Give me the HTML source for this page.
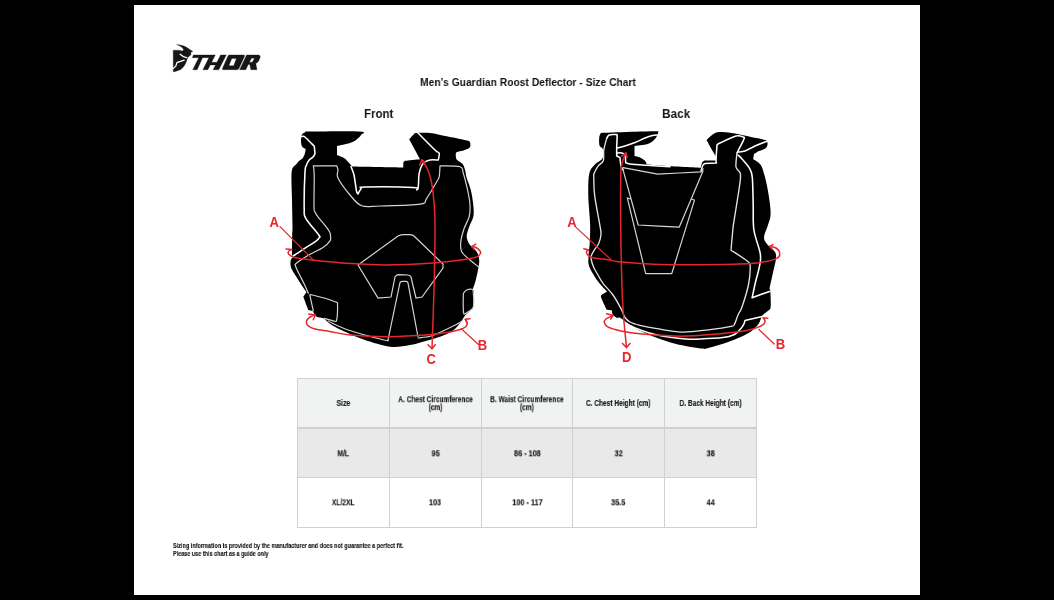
<!DOCTYPE html>
<html><head><meta charset="utf-8"><style>
html,body{margin:0;padding:0;background:#000;width:1054px;height:600px;overflow:hidden;font-family:"Liberation Sans",sans-serif;}
#page{position:absolute;left:134px;top:5px;width:786px;height:590px;background:#fff;}
.t{will-change:transform;position:absolute;white-space:nowrap;color:#141414;font-weight:bold;line-height:1;}
.t span{display:inline-block;}
.c{position:absolute;display:flex;align-items:center;justify-content:center;text-align:center;}
.c span{will-change:transform;display:inline-block;font-weight:bold;color:#1a1a1a;-webkit-text-stroke:0.15px #1a1a1a;white-space:nowrap;}
.hl{position:absolute;background:#d0d0d0;}
svg{position:absolute;left:0;top:0;}
</style></head><body>
<div id="page"></div>
<div class="t" style="left:419.50px;top:75.86px;font-size:11.63px;color:#141414;transform:scaleX(0.886);transform-origin:0 0;">Men’s Guardian Roost Deflector - Size Chart</div><div class="t" style="left:364.30px;top:107.00px;font-size:13.23px;color:#141414;transform:scaleX(0.87);transform-origin:0 0;">Front</div><div class="t" style="left:662.30px;top:106.76px;font-size:13.52px;color:#141414;transform:scaleX(0.876);transform-origin:0 0;">Back</div><div style="position:absolute;left:297.7px;top:378.3px;width:458.40px;height:49.70px;background:#f1f2f2"></div><div style="position:absolute;left:297.7px;top:428.0px;width:458.40px;height:49.70px;background:#e9e9e9"></div><div style="position:absolute;left:297.7px;top:477.7px;width:458.40px;height:49.60px;background:#ffffff"></div><div class="hl" style="left:297.10px;top:377.70px;width:1.2px;height:150.20px"></div><div class="hl" style="left:388.90px;top:377.70px;width:1.2px;height:150.20px"></div><div class="hl" style="left:480.70px;top:377.70px;width:1.2px;height:150.20px"></div><div class="hl" style="left:572.10px;top:377.70px;width:1.2px;height:150.20px"></div><div class="hl" style="left:664.00px;top:377.70px;width:1.2px;height:150.20px"></div><div class="hl" style="left:755.50px;top:377.70px;width:1.2px;height:150.20px"></div><div class="hl" style="left:297.10px;top:377.70px;width:459.60px;height:1.2px"></div><div class="hl" style="left:297.10px;top:427.40px;width:459.60px;height:1.2px"></div><div class="hl" style="left:297.10px;top:477.10px;width:459.60px;height:1.2px"></div><div class="hl" style="left:297.10px;top:526.70px;width:459.60px;height:1.2px"></div><div class="c" style="left:297.70px;top:378.30px;width:91.80px;height:49.70px"><span style="font-size:8.4px;line-height:8.2px;transform:translateY(0px) scaleX(0.82)">Size</span></div><div class="c" style="left:389.50px;top:378.30px;width:91.80px;height:49.70px"><span style="font-size:8.4px;line-height:8.2px;transform:translateY(0.2px) scaleX(0.785)">A. Chest Circumference<br>(cm)</span></div><div class="c" style="left:481.30px;top:378.30px;width:91.40px;height:49.70px"><span style="font-size:8.4px;line-height:8.2px;transform:translateY(0.2px) scaleX(0.785)">B. Waist Circumference<br>(cm)</span></div><div class="c" style="left:572.70px;top:378.30px;width:91.90px;height:49.70px"><span style="font-size:8.4px;line-height:8.2px;transform:translateY(0px) scaleX(0.785)">C. Chest Height (cm)</span></div><div class="c" style="left:664.60px;top:378.30px;width:91.50px;height:49.70px"><span style="font-size:8.4px;line-height:8.2px;transform:translateY(0px) scaleX(0.785)">D. Back Height (cm)</span></div><div class="c" style="left:297.70px;top:428.00px;width:91.80px;height:49.70px"><span style="font-size:8.4px;line-height:8.2px;transform:translateY(0.3px) scaleX(0.8)">M/L</span></div><div class="c" style="left:389.50px;top:428.00px;width:91.80px;height:49.70px"><span style="font-size:8.4px;line-height:8.2px;transform:translateY(0.3px) scaleX(0.87)">95</span></div><div class="c" style="left:481.30px;top:428.00px;width:91.40px;height:49.70px"><span style="font-size:8.4px;line-height:8.2px;transform:translateY(0.3px) scaleX(0.87)">86 - 108</span></div><div class="c" style="left:572.70px;top:428.00px;width:91.90px;height:49.70px"><span style="font-size:8.4px;line-height:8.2px;transform:translateY(0.3px) scaleX(0.87)">32</span></div><div class="c" style="left:664.60px;top:428.00px;width:91.50px;height:49.70px"><span style="font-size:8.4px;line-height:8.2px;transform:translateY(0.3px) scaleX(0.87)">38</span></div><div class="c" style="left:297.70px;top:477.70px;width:91.80px;height:49.60px"><span style="font-size:8.4px;line-height:8.2px;transform:translateY(0.3px) scaleX(0.8)">XL/2XL</span></div><div class="c" style="left:389.50px;top:477.70px;width:91.80px;height:49.60px"><span style="font-size:8.4px;line-height:8.2px;transform:translateY(0.3px) scaleX(0.87)">103</span></div><div class="c" style="left:481.30px;top:477.70px;width:91.40px;height:49.60px"><span style="font-size:8.4px;line-height:8.2px;transform:translateY(0.3px) scaleX(0.87)">100 - 117</span></div><div class="c" style="left:572.70px;top:477.70px;width:91.90px;height:49.60px"><span style="font-size:8.4px;line-height:8.2px;transform:translateY(0.3px) scaleX(0.87)">35.5</span></div><div class="c" style="left:664.60px;top:477.70px;width:91.50px;height:49.60px"><span style="font-size:8.4px;line-height:8.2px;transform:translateY(0.3px) scaleX(0.87)">44</span></div><div class="t" style="left:172.90px;top:541.75px;font-size:7.27px;color:#141414;transform:scaleX(0.76);transform-origin:0 0;-webkit-text-stroke:0.12px #141414;">Sizing information is provided by the manufacturer and does not guarantee a perfect fit.</div><div class="t" style="left:172.90px;top:550.57px;font-size:7.12px;color:#141414;transform:scaleX(0.77);transform-origin:0 0;-webkit-text-stroke:0.12px #141414;">Please use this chart as a guide only</div>
<svg width="1054" height="600" viewBox="0 0 1054 600">
<path d="M301.20,138.00 C301.40,136.87 301.48,135.17 302.20,134.20 C302.92,133.23 304.20,132.63 305.50,132.20 C306.80,131.77 300.92,131.72 310.00,131.60 C319.08,131.48 351.50,130.93 360.00,131.50 C368.50,132.07 361.67,133.58 361.00,135.00 C360.33,136.42 357.83,138.67 356.00,140.00 C354.17,141.33 353.17,142.00 350.00,143.00 C346.83,144.00 339.17,145.50 337.00,146.00 C337.00,147.50 337.00,153.50 337.00,155.00 C338.17,155.50 341.83,156.50 344.00,158.00 C346.17,159.50 348.67,162.58 350.00,164.00 C351.33,165.42 351.67,166.08 352.00,166.50 C360.55,166.67 394.75,167.33 403.30,167.50 C403.30,166.67 403.30,163.33 403.30,162.50 C403.58,162.22 404.72,161.08 405.00,160.80 C407.50,160.53 417.50,159.47 420.00,159.20 C418.20,155.87 411.00,142.53 409.20,139.20 C410.17,138.17 414.03,134.03 415.00,133.00 C417.50,133.00 424.72,132.45 430.00,133.00 C435.28,133.55 441.15,135.18 446.70,136.30 C452.25,137.42 459.55,138.87 463.30,139.70 C467.05,140.53 468.02,140.47 469.20,141.30 C470.38,142.13 470.40,143.58 470.40,144.70 C470.40,145.82 470.38,147.03 469.20,148.00 C468.02,148.97 465.38,149.80 463.30,150.50 C461.22,151.20 457.95,151.50 456.70,152.20 C455.45,152.90 455.87,153.60 455.80,154.70 C455.73,155.80 455.88,157.77 456.30,158.80 C456.72,159.83 457.27,160.07 458.30,160.90 C459.33,161.73 461.38,162.33 462.50,163.80 C463.62,165.27 464.30,167.33 465.00,169.70 C465.70,172.07 465.73,174.62 466.70,178.00 C467.67,181.38 469.70,185.50 470.80,190.00 C471.90,194.50 472.88,200.55 473.30,205.00 C473.72,209.45 473.98,213.08 473.30,216.70 C472.62,220.32 470.30,223.37 469.20,226.70 C468.10,230.03 466.57,233.65 466.70,236.70 C466.83,239.75 468.33,242.50 470.00,245.00 C471.67,247.50 475.17,249.20 476.70,251.70 C478.23,254.20 478.93,257.23 479.20,260.00 C479.47,262.77 478.87,264.97 478.30,268.30 C477.73,271.63 476.73,276.50 475.80,280.00 C474.87,283.50 473.22,287.75 472.70,289.30 C472.92,289.97 473.90,290.30 474.00,293.30 C474.10,296.30 473.75,304.52 473.30,307.30 C472.85,310.08 472.63,308.67 471.30,310.00 C469.97,311.33 467.18,313.08 465.30,315.30 C463.42,317.52 462.22,320.63 460.00,323.30 C457.78,325.97 455.33,329.07 452.00,331.30 C448.67,333.53 444.22,335.13 440.00,336.70 C435.78,338.27 431.70,339.32 426.70,340.70 C421.70,342.08 416.12,344.00 410.00,345.00 C403.88,346.00 397.50,347.53 390.00,346.70 C382.50,345.87 371.95,342.23 365.00,340.00 C358.05,337.77 353.85,335.80 348.30,333.30 C342.75,330.80 335.87,327.50 331.70,325.00 C327.53,322.50 325.80,319.68 323.30,318.30 C320.80,316.92 318.50,317.95 316.70,316.70 C314.90,315.45 313.20,311.78 312.50,310.80 C311.80,310.67 309.00,310.13 308.30,310.00 C307.47,307.78 304.13,298.92 303.30,296.70 C303.87,295.87 306.13,292.53 306.70,291.70 C306.42,291.42 306.73,292.50 305.00,290.00 C303.27,287.50 298.58,280.32 296.30,276.70 C294.02,273.08 292.27,270.80 291.30,268.30 C290.33,265.80 290.43,263.50 290.50,261.70 C290.57,259.90 291.50,259.45 291.75,257.50 C292.00,255.55 291.93,253.75 292.00,250.00 C292.07,246.25 292.12,238.88 292.20,235.00 C292.28,231.12 292.53,232.53 292.50,226.70 C292.47,220.87 292.13,209.17 292.00,200.00 C291.87,190.83 290.98,177.65 291.70,171.70 C292.42,165.75 295.08,166.08 296.30,164.30 C297.52,162.52 297.88,162.10 299.00,161.00 C300.12,159.90 302.00,159.03 303.00,157.70 C304.00,156.37 304.55,154.45 305.00,153.00 C305.45,151.55 305.58,149.67 305.70,149.00 C305.37,148.83 304.37,148.55 303.70,148.00 C303.03,147.45 302.15,146.87 301.70,145.70 C301.25,144.53 301.08,142.28 301.00,141.00 C300.92,139.72 301.00,139.13 301.20,138.00 Z" fill="#000"/>
<path d="M301.70,136.70 C302.03,136.63 302.93,136.03 303.70,136.30 C304.47,136.57 304.53,136.63 306.30,138.30 C308.07,139.97 312.97,144.97 314.30,146.30 C314.42,147.53 314.88,152.47 315.00,153.70 C314.67,154.25 314.00,155.90 313.00,157.00 C312.00,158.10 310.08,158.97 309.00,160.30 C307.92,161.63 307.17,163.05 306.50,165.00 C305.83,166.95 305.38,164.78 305.00,172.00 C304.62,179.22 304.07,200.58 304.20,208.30 C304.33,216.02 303.37,213.85 305.80,218.30 C308.23,222.75 316.56,231.80 318.80,235.00 C321.04,238.20 319.67,236.53 319.25,237.50 C318.83,238.47 318.73,239.00 316.30,240.80 C313.88,242.60 308.30,245.93 304.70,248.30 C301.10,250.67 297.07,253.33 294.70,255.00 C292.33,256.67 291.20,257.75 290.50,258.30" fill="none" stroke="#ffffff" stroke-width="1.55" stroke-linejoin="round" stroke-linecap="round"/>
<path d="M351.00,166.50 C351.50,167.92 353.08,170.92 354.00,175.00 C354.92,179.08 355.83,187.83 356.50,191.00 C357.17,194.17 357.75,193.50 358.00,194.00 C358.50,193.17 359.83,190.17 361.00,189.00 C362.17,187.83 356.28,187.25 365.00,187.00 C373.72,186.75 404.68,187.00 413.30,187.50 C421.92,188.00 416.13,189.58 416.70,190.00 C416.97,189.45 417.88,189.48 418.30,186.70 C418.72,183.92 418.37,177.20 419.20,173.30 C420.03,169.40 421.50,165.52 423.30,163.30 C425.10,161.08 427.50,160.55 430.00,160.00 C432.50,159.45 436.92,160.00 438.30,160.00 C438.45,158.88 439.75,154.97 439.20,153.30 C438.65,151.63 438.62,153.47 435.00,150.00 C431.38,146.53 420.42,135.42 417.50,132.50" fill="none" stroke="#ffffff" stroke-width="1.55" stroke-linejoin="round" stroke-linecap="round"/>
<path d="M478.30,266.70 C476.92,265.58 472.77,262.50 470.00,260.00 C467.23,257.50 463.23,254.75 461.70,251.70 C460.17,248.65 460.38,245.60 460.80,241.70 C461.22,237.80 462.80,232.47 464.20,228.30 C465.60,224.13 468.23,220.58 469.20,216.70 C470.17,212.82 470.15,208.90 470.00,205.00 C469.85,201.10 469.42,198.58 468.30,193.30 C467.18,188.02 464.68,177.73 463.30,173.30 C461.92,168.87 463.88,167.95 460.00,166.70 C456.12,165.45 443.33,165.95 440.00,165.80 C439.87,167.62 439.75,174.05 439.20,176.70 C438.65,179.35 438.78,178.10 436.70,181.70 C434.62,185.30 429.48,194.55 426.70,198.30 C423.92,202.05 427.78,202.92 420.00,204.20 C412.22,205.48 389.72,205.73 380.00,206.00 C370.28,206.27 366.70,207.63 361.70,205.80 C356.70,203.97 353.95,199.63 350.00,195.00 C346.05,190.37 340.00,182.17 338.00,178.00 C336.00,173.83 338.22,172.03 338.00,170.00 C337.78,167.97 336.92,166.50 336.70,165.80 C332.80,165.80 317.20,165.80 313.30,165.80 C313.45,167.33 314.08,168.18 314.20,175.00 C314.32,181.82 313.87,200.53 314.00,206.70 C314.13,212.87 314.28,210.23 315.00,212.00 C315.72,213.77 316.63,215.08 318.30,217.30 C319.97,219.52 323.10,222.85 325.00,225.30 C326.90,227.75 328.78,230.22 329.70,232.00 C330.62,233.78 330.45,234.53 330.50,236.00 C330.55,237.47 331.25,238.88 330.00,240.80 C328.75,242.72 326.53,245.13 323.00,247.50 C319.47,249.87 313.25,252.37 308.80,255.00 C304.35,257.63 298.52,261.50 296.30,263.30 C294.08,265.10 295.08,264.13 295.50,265.80 C295.92,267.47 297.27,270.10 298.80,273.30 C300.33,276.50 303.12,281.67 304.70,285.00 C306.28,288.33 307.70,291.92 308.30,293.30" fill="none" stroke="#d4d4d4" stroke-width="1.2" stroke-linejoin="round" stroke-linecap="round"/>
<path d="M358,265 L398,236 Q401,234.6 404,234.6 L410,234.6 Q413,234.8 414,236 L443,264 L443,268 L422,297 L416,298 L411,277 Q410,275 408,275 L398,274.6 Q396,275 395,277 L391,297 L378,298 Z" fill="none" stroke="#d4d4d4" stroke-width="1.2"/>
<path d="M388,340 L400,282.5 Q401,281.4 403,281.4 L406,281.4 Q407.5,281.5 408,283 L418,337" fill="none" stroke="#d4d4d4" stroke-width="1.2"/>
<path d="M328.00,321.00 C331.38,322.50 338.97,326.83 348.30,330.00 C357.63,333.17 377.38,338.33 384.00,340.00 C390.62,341.67 387.33,340.00 388.00,340.00" fill="none" stroke="#d4d4d4" stroke-width="1.2" stroke-linejoin="round" stroke-linecap="round"/>
<path d="M418.00,338.00 C419.33,337.83 423.45,337.45 426.00,337.00 C428.55,336.55 428.75,337.13 433.30,335.30 C437.85,333.47 448.40,328.43 453.30,326.00 C458.20,323.57 461.13,321.58 462.70,320.70" fill="none" stroke="#d4d4d4" stroke-width="1.2" stroke-linejoin="round" stroke-linecap="round"/>
<path d="M313.30,310.80 C312.75,308.30 310.55,298.30 310.00,295.80 C310.42,295.67 308.33,294.02 312.50,295.00 C316.67,295.98 330.83,300.03 335.00,301.70 C339.17,303.37 337.22,301.95 337.50,305.00 C337.78,308.05 337.40,317.37 336.70,320.00 C336.00,322.63 335.38,321.08 333.30,320.80 C331.22,320.52 325.72,318.72 324.20,318.30" fill="none" stroke="#d4d4d4" stroke-width="1.2" stroke-linejoin="round" stroke-linecap="round"/>
<path d="M464.00,292.70 C464.57,291.82 465.37,290.57 466.70,290.00 C468.03,289.43 470.90,288.85 472.00,289.30 C473.10,289.75 473.08,289.70 473.30,292.70 C473.52,295.70 474.40,303.97 473.30,307.30 C472.20,310.63 468.25,311.58 466.70,312.70 C465.15,313.82 464.57,314.45 464.00,314.00 C463.43,313.55 463.42,313.12 463.30,310.00 C463.18,306.88 463.18,298.18 463.30,295.30 C463.42,292.42 463.43,293.58 464.00,292.70 Z" fill="none" stroke="#d4d4d4" stroke-width="1.2" stroke-linejoin="round" stroke-linecap="round"/>
<path d="M291.30,249.60 C290.83,249.92 288.92,250.73 288.50,251.50 C288.08,252.27 287.77,253.20 288.80,254.20 C289.83,255.20 290.80,256.53 294.70,257.50 C298.60,258.47 302.98,259.00 312.20,260.00 C321.42,261.00 337.87,262.67 350.00,263.50 C362.13,264.33 371.67,265.03 385.00,265.00 C398.33,264.97 415.55,264.42 430.00,263.30 C444.45,262.18 463.37,259.85 471.70,258.30 C480.03,256.75 478.62,255.22 480.00,254.00 C481.38,252.78 480.67,252.08 480.00,251.00 C479.33,249.92 477.38,248.22 476.00,247.50 C474.62,246.78 472.42,246.83 471.70,246.70" fill="none" stroke="#e5262c" stroke-width="1.5" stroke-linejoin="round" stroke-linecap="round"/>
<path d="M475.80,244.20 L471.70,246.70 L474.50,249.50" fill="none" stroke="#e5262c" stroke-width="1.5" stroke-linejoin="round" stroke-linecap="round"/>
<path d="M280.00,226.70 L313.30,260.00" fill="none" stroke="#e5262c" stroke-width="1.2" stroke-linejoin="round" stroke-linecap="round"/>
<path d="M286.00,249.00 L292.00,249.50" fill="none" stroke="#e5262c" stroke-width="1.5" stroke-linejoin="round" stroke-linecap="round"/>
<path d="M421.70,160.00 C422.58,161.33 425.45,164.67 427.00,168.00 C428.55,171.33 429.95,175.50 431.00,180.00 C432.05,184.50 432.67,189.17 433.30,195.00 C433.93,200.83 434.52,207.50 434.80,215.00 C435.08,222.50 435.13,227.50 435.00,240.00 C434.87,252.50 434.50,271.88 434.00,290.00 C433.50,308.12 432.33,338.92 432.00,348.70" fill="none" stroke="#e5262c" stroke-width="1.5" stroke-linejoin="round" stroke-linecap="round"/>
<path d="M428.00,344.70 L432.00,348.70 L435.30,344.70" fill="none" stroke="#e5262c" stroke-width="1.5" stroke-linejoin="round" stroke-linecap="round"/>
<path d="M419.80,165.00 L421.70,160.00 L425.50,162.50" fill="none" stroke="#e5262c" stroke-width="1.5" stroke-linejoin="round" stroke-linecap="round"/>
<path d="M315.50,315.00 C314.75,315.25 312.42,315.67 311.00,316.50 C309.58,317.33 307.75,318.92 307.00,320.00 C306.25,321.08 306.25,322.00 306.50,323.00 C306.75,324.00 307.08,325.00 308.50,326.00 C309.92,327.00 311.42,328.08 315.00,329.00 C318.58,329.92 324.17,330.50 330.00,331.50 C335.83,332.50 340.83,334.12 350.00,335.00 C359.17,335.88 373.33,336.75 385.00,336.80 C396.67,336.85 410.83,335.85 420.00,335.30 C429.17,334.75 433.55,334.38 440.00,333.50 C446.45,332.62 454.45,331.08 458.70,330.00 C462.95,328.92 464.07,328.12 465.50,327.00 C466.93,325.88 467.33,324.58 467.30,323.30 C467.27,322.02 465.63,319.97 465.30,319.30" fill="none" stroke="#e5262c" stroke-width="1.5" stroke-linejoin="round" stroke-linecap="round"/>
<path d="M470.00,318.70 L465.30,319.30 L467.00,323.00" fill="none" stroke="#e5262c" stroke-width="1.5" stroke-linejoin="round" stroke-linecap="round"/>
<path d="M461.30,328.70 L478.70,344.70" fill="none" stroke="#e5262c" stroke-width="1.2" stroke-linejoin="round" stroke-linecap="round"/>
<path d="M308.75,314.00 L315.50,315.00 L313.25,319.75" fill="none" stroke="#e5262c" stroke-width="1.5" stroke-linejoin="round" stroke-linecap="round"/>
<text transform="translate(274.2,226.8) scale(0.86,1)" text-anchor="middle" fill="#e5262c" font-family="Liberation Sans" font-weight="bold" font-size="15.2">A</text>
<text transform="translate(431.2,364.4) scale(0.86,1)" text-anchor="middle" fill="#e5262c" font-family="Liberation Sans" font-weight="bold" font-size="15.2">C</text>
<text transform="translate(482.4,349.9) scale(0.86,1)" text-anchor="middle" fill="#e5262c" font-family="Liberation Sans" font-weight="bold" font-size="15.2">B</text>
<path d="M600.80,132.90 C606.50,132.71 625.72,132.03 635.00,131.75 C644.28,131.47 652.67,131.04 656.50,131.25 C660.33,131.46 657.92,132.21 658.00,133.00 C658.08,133.79 657.67,134.83 657.00,136.00 C656.33,137.17 655.33,138.75 654.00,140.00 C652.67,141.25 650.92,142.67 649.00,143.50 C647.08,144.33 644.92,144.58 642.50,145.00 C640.08,145.42 635.83,145.83 634.50,146.00 C634.50,147.67 634.50,154.33 634.50,156.00 C635.42,156.25 638.25,156.70 640.00,157.50 C641.75,158.30 643.88,159.68 645.00,160.80 C646.12,161.92 646.42,163.63 646.70,164.20 C648.92,164.42 651.00,164.90 660.00,165.50 C669.00,166.10 693.92,167.42 700.70,167.80 C700.95,166.85 701.95,163.05 702.20,162.10 C702.58,161.85 704.12,160.85 704.50,160.60 C706.40,160.60 714.00,160.60 715.90,160.60 C716.02,160.10 716.48,158.10 716.60,157.60 C715.83,156.33 713.68,152.93 712.00,150.00 C710.32,147.07 707.42,141.67 706.50,140.00 C707.92,138.83 712.25,134.33 715.00,133.00 C717.75,131.67 719.67,131.92 723.00,132.00 C726.33,132.08 730.33,132.67 735.00,133.50 C739.67,134.33 746.00,135.92 751.00,137.00 C756.00,138.08 762.25,139.00 765.00,140.00 C767.75,141.00 767.33,141.67 767.50,143.00 C767.67,144.33 767.42,146.67 766.00,148.00 C764.58,149.33 761.00,150.00 759.00,151.00 C757.00,152.00 754.83,153.50 754.00,154.00 C753.87,154.87 753.33,158.33 753.20,159.20 C754.43,160.12 758.62,161.65 760.60,164.70 C762.58,167.75 763.73,172.30 765.10,177.50 C766.47,182.70 767.88,189.78 768.80,195.90 C769.72,202.02 770.75,209.32 770.60,214.20 C770.45,219.08 769.00,221.35 767.90,225.20 C766.80,229.05 764.05,234.05 764.00,237.30 C763.95,240.55 765.77,242.25 767.60,244.70 C769.43,247.15 773.62,249.57 775.00,252.00 C776.38,254.43 776.22,255.95 775.90,259.30 C775.58,262.65 774.17,267.22 773.10,272.10 C772.03,276.98 770.10,285.85 769.50,288.60 C769.65,289.22 770.22,289.18 770.40,292.30 C770.58,295.42 771.03,304.18 770.60,307.30 C770.17,310.42 769.18,309.62 767.80,311.00 C766.42,312.38 763.82,313.47 762.30,315.60 C760.78,317.73 760.53,321.20 758.70,323.80 C756.87,326.40 754.22,329.05 751.30,331.20 C748.38,333.35 745.17,334.87 741.20,336.70 C737.23,338.53 732.83,340.37 727.50,342.20 C722.17,344.03 713.55,346.63 709.20,347.70 C704.85,348.77 706.92,349.22 701.40,348.60 C695.88,347.98 683.00,345.60 676.10,344.00 C669.20,342.40 665.18,340.83 660.00,339.00 C654.82,337.17 648.75,334.58 645.00,333.00 C641.25,331.42 640.30,331.05 637.50,329.50 C634.70,327.95 631.12,325.65 628.20,323.70 C625.28,321.75 621.95,318.78 620.00,317.80 C618.05,316.82 617.77,318.38 616.50,317.80 C615.23,317.22 613.08,314.88 612.40,314.30 C612.30,313.63 611.90,310.97 611.80,310.30 C610.93,310.20 607.47,309.80 606.60,309.70 C605.72,307.75 602.18,300.43 601.30,298.00 C600.42,295.57 601.30,295.58 601.30,295.10 C602.28,294.52 606.22,292.18 607.20,291.60 C605.80,290.08 601.30,285.68 598.80,282.50 C596.30,279.32 593.87,275.42 592.20,272.50 C590.53,269.58 589.43,267.08 588.80,265.00 C588.17,262.92 588.40,262.22 588.40,260.00 C588.40,257.78 588.58,254.48 588.80,251.70 C589.02,248.92 589.48,248.02 589.70,243.30 C589.92,238.58 590.33,231.30 590.10,223.40 C589.87,215.50 588.45,204.15 588.30,195.90 C588.15,187.65 588.13,179.10 589.20,173.90 C590.27,168.70 592.48,167.30 594.70,164.70 C596.92,162.10 601.13,160.88 602.50,158.30 C603.87,155.72 603.38,151.28 602.90,149.20 C602.42,147.12 600.22,147.75 599.60,145.80 C598.98,143.85 599.00,139.65 599.20,137.50 C599.40,135.35 600.53,133.67 600.80,132.90 Z" fill="#000"/>
<path d="M617.00,148.00 C618.33,147.67 622.00,146.92 625.00,146.00 C628.00,145.08 631.67,143.83 635.00,142.50 C638.33,141.17 642.08,139.17 645.00,138.00 C647.92,136.83 650.42,136.00 652.50,135.50 C654.58,135.00 656.67,135.08 657.50,135.00" fill="none" stroke="#ffffff" stroke-width="1.55" stroke-linejoin="round" stroke-linecap="round"/>
<path d="M606.70,138.30 C607.12,137.75 607.68,135.62 609.20,135.00 C610.72,134.38 614.48,134.47 615.80,134.60 C617.12,134.73 616.95,133.78 617.10,135.80 C617.25,137.82 616.77,143.33 616.70,146.70 C616.63,150.07 616.70,154.45 616.70,156.00 C617.25,156.27 619.45,157.33 620.00,157.60 C620.08,158.50 620.25,161.35 620.50,163.00 C620.75,164.65 621.08,166.38 621.50,167.50 C621.92,168.62 622.75,169.33 623.00,169.70" fill="none" stroke="#ffffff" stroke-width="1.55" stroke-linejoin="round" stroke-linecap="round"/>
<path d="M617.00,153.00 C617.62,152.95 619.53,152.53 620.70,152.70 C621.87,152.87 623.23,153.33 624.00,154.00 C624.77,154.67 625.02,155.25 625.30,156.70 C625.58,158.15 625.63,161.70 625.70,162.70 C626.42,162.92 626.50,163.57 630.00,164.00 C633.50,164.43 640.03,164.85 646.70,165.30 C653.37,165.75 666.12,166.47 670.00,166.70" fill="none" stroke="#ffffff" stroke-width="1.55" stroke-linejoin="round" stroke-linecap="round"/>
<path d="M701.00,171.00 C701.33,170.00 702.33,166.25 703.00,165.00 C703.67,163.75 704.67,163.75 705.00,163.50 C706.92,163.42 714.58,163.08 716.50,163.00 C716.42,162.50 715.92,163.00 716.00,160.00 C716.08,157.00 716.83,147.50 717.00,145.00 C717.50,144.67 716.83,144.50 720.00,143.00 C723.17,141.50 732.17,137.00 736.00,136.00 C739.83,135.00 741.67,136.50 743.00,137.00 C744.33,137.50 744.83,136.67 744.00,139.00 C743.17,141.33 739.17,148.67 738.00,151.00 C736.83,153.33 737.17,152.67 737.00,153.00" fill="none" stroke="#ffffff" stroke-width="1.55" stroke-linejoin="round" stroke-linecap="round"/>
<path d="M606.70,138.30 C606.22,140.25 604.37,146.25 603.80,150.00 C603.23,153.75 604.22,158.17 603.30,160.80 C602.38,163.43 599.82,163.72 598.30,165.80 C596.78,167.88 594.95,171.35 594.20,173.30 C593.45,175.25 593.72,173.73 593.80,177.50 C593.88,181.27 593.63,187.63 594.70,195.90 C595.77,204.17 599.17,220.58 600.20,227.10 C601.23,233.62 601.13,232.30 600.90,235.00 C600.67,237.70 599.98,240.67 598.80,243.30 C597.62,245.93 595.05,248.72 593.80,250.80 C592.55,252.88 591.72,254.27 591.30,255.80 C590.88,257.33 590.88,258.05 591.30,260.00 C591.72,261.95 592.68,265.00 593.80,267.50 C594.92,270.00 596.47,272.37 598.00,275.00 C599.53,277.63 600.50,279.97 603.00,283.30 C605.50,286.63 610.00,290.78 613.00,295.00 C616.00,299.22 619.00,304.85 621.00,308.60 C623.00,312.35 623.50,315.27 625.00,317.50 C626.50,319.73 627.50,320.70 630.00,322.00 C632.50,323.30 635.48,324.18 640.00,325.30 C644.52,326.42 650.08,327.57 657.10,328.70 C664.12,329.83 673.57,331.92 682.10,332.10 C690.63,332.28 700.13,330.75 708.30,329.80 C716.47,328.85 726.73,327.35 731.10,326.40 C735.47,325.45 733.35,326.00 734.50,324.10 C735.65,322.20 736.75,317.85 738.00,315.00 C739.25,312.15 740.27,312.00 742.00,307.00 C743.73,302.00 747.03,291.72 748.40,285.00 C749.77,278.28 750.35,270.67 750.20,266.70 C750.05,262.73 750.70,263.95 747.50,261.20 C744.30,258.45 733.75,252.03 731.00,250.20 C731.30,246.83 732.32,234.77 732.80,230.00 C733.28,225.23 732.80,228.82 733.90,221.60 C735.00,214.38 738.32,194.65 739.40,186.70 C740.48,178.75 740.97,177.18 740.40,173.90 C739.83,170.62 736.57,170.48 736.00,167.00 C735.43,163.52 736.83,155.33 737.00,153.00" fill="none" stroke="#e2e2e2" stroke-width="1.35" stroke-linejoin="round" stroke-linecap="round"/>
<path d="M738.00,152.00 C739.17,151.83 742.17,152.00 745.00,151.00 C747.83,150.00 751.67,147.50 755.00,146.00 C758.33,144.50 763.00,142.75 765.00,142.00 C767.00,141.25 766.67,141.58 767.00,141.50" fill="none" stroke="#ffffff" stroke-width="1.55" stroke-linejoin="round" stroke-linecap="round"/>
<path d="M738.00,155.00 C738.70,155.70 740.28,156.98 742.20,159.20 C744.12,161.42 747.82,165.25 749.50,168.30 C751.18,171.35 751.68,171.38 752.30,177.50 C752.92,183.62 752.93,196.25 753.20,205.00 C753.47,213.75 752.72,221.87 753.90,230.00 C755.08,238.13 759.38,247.68 760.30,253.80 C761.22,259.92 760.17,262.12 759.40,266.70 C758.63,271.28 756.92,276.12 755.70,281.30 C754.48,286.48 752.70,295.05 752.10,297.80 C755.00,296.73 766.60,292.47 769.50,291.40" fill="none" stroke="#ffffff" stroke-width="1.55" stroke-linejoin="round" stroke-linecap="round"/>
<path d="M762.30,316.50 C759.40,317.18 747.80,319.92 744.90,320.60 C744.75,321.13 744.77,322.35 744.00,323.80 C743.23,325.25 741.98,327.47 740.30,329.30 C738.62,331.13 736.80,333.42 733.90,334.80 C731.00,336.18 728.55,336.90 722.90,337.60 C717.25,338.30 706.22,338.78 700.00,339.00 C693.78,339.22 692.75,339.58 685.60,338.90 C678.45,338.22 664.70,336.42 657.10,334.90 C649.50,333.38 645.25,331.73 640.00,329.80 C634.75,327.87 628.00,324.38 625.60,323.30" fill="none" stroke="#ffffff" stroke-width="1.55" stroke-linejoin="round" stroke-linecap="round"/>
<path d="M623.00,167.60 C628.77,168.68 651.83,173.02 657.60,174.10 C664.83,173.73 693.77,172.27 701.00,171.90 C701.35,171.37 702.75,169.23 703.10,168.70" fill="none" stroke="#d4d4d4" stroke-width="1.2" stroke-linejoin="round" stroke-linecap="round"/>
<path d="M623.00,169.70 C625.53,178.92 635.67,215.78 638.20,225.00 C645.05,225.35 672.45,226.75 679.30,227.10 C683.27,217.72 699.13,180.18 703.10,170.80" fill="none" stroke="#d4d4d4" stroke-width="1.2" stroke-linejoin="round" stroke-linecap="round"/>
<path d="M630.60,199.00 C630.05,198.82 627.85,198.08 627.30,197.90 C630.37,210.53 642.63,261.07 645.70,273.70 C650.03,273.70 667.37,273.70 671.70,273.70 C675.50,261.43 690.70,212.37 694.50,200.10 C693.95,199.92 691.75,199.18 691.20,199.00" fill="none" stroke="#d4d4d4" stroke-width="1.2" stroke-linejoin="round" stroke-linecap="round"/>
<path d="M594.70,258.30 C593.72,257.88 590.20,256.90 588.80,255.80 C587.40,254.70 586.30,252.67 586.30,251.70 C586.30,250.73 588.38,250.28 588.80,250.00" fill="none" stroke="#e5262c" stroke-width="1.5" stroke-linejoin="round" stroke-linecap="round"/>
<path d="M583.80,248.75 L588.80,250.00" fill="none" stroke="#e5262c" stroke-width="1.5" stroke-linejoin="round" stroke-linecap="round"/>
<path d="M594.70,258.30 C597.20,258.58 605.82,259.43 609.70,260.00 C613.58,260.57 611.28,261.03 618.00,261.70 C624.72,262.37 641.33,263.50 650.00,264.00 C658.67,264.50 658.33,264.62 670.00,264.70 C681.67,264.78 705.55,264.78 720.00,264.50 C734.45,264.22 747.23,264.02 756.70,263.00 C766.17,261.98 772.98,260.08 776.80,258.40 C780.62,256.72 779.73,254.63 779.60,252.90 C779.47,251.17 777.68,249.07 776.00,248.00 C774.32,246.93 770.58,246.75 769.50,246.50" fill="none" stroke="#e5262c" stroke-width="1.5" stroke-linejoin="round" stroke-linecap="round"/>
<path d="M773.10,244.70 L769.50,246.50 L772.50,249.50" fill="none" stroke="#e5262c" stroke-width="1.5" stroke-linejoin="round" stroke-linecap="round"/>
<path d="M576.00,227.40 L610.70,259.40" fill="none" stroke="#e5262c" stroke-width="1.2" stroke-linejoin="round" stroke-linecap="round"/>
<path d="M625.80,152.90 C625.25,154.42 623.33,158.32 622.50,162.00 C621.67,165.68 621.08,162.83 620.80,175.00 C620.52,187.17 620.48,213.58 620.80,235.00 C621.12,256.42 621.75,284.73 622.70,303.50 C623.65,322.27 625.87,340.25 626.50,347.60" fill="none" stroke="#e5262c" stroke-width="1.5" stroke-linejoin="round" stroke-linecap="round"/>
<path d="M622.50,343.50 L626.50,347.60 L630.00,343.50" fill="none" stroke="#e5262c" stroke-width="1.5" stroke-linejoin="round" stroke-linecap="round"/>
<path d="M621.70,156.20 L625.80,152.90 L627.10,157.50" fill="none" stroke="#e5262c" stroke-width="1.5" stroke-linejoin="round" stroke-linecap="round"/>
<path d="M613.00,315.50 C611.83,316.08 607.45,317.83 606.00,319.00 C604.55,320.17 603.92,321.13 604.30,322.50 C604.68,323.87 605.68,325.83 608.30,327.20 C610.92,328.57 614.72,329.60 620.00,330.70 C625.28,331.80 629.07,332.90 640.00,333.80 C650.93,334.70 669.48,336.38 685.60,336.10 C701.72,335.82 725.13,333.38 736.70,332.10 C748.27,330.82 750.58,329.63 755.00,328.40 C759.42,327.17 761.52,325.92 763.20,324.70 C764.88,323.48 765.10,322.23 765.10,321.10 C765.10,319.97 763.52,318.43 763.20,317.90" fill="none" stroke="#e5262c" stroke-width="1.5" stroke-linejoin="round" stroke-linecap="round"/>
<path d="M767.80,318.30 L763.20,317.90" fill="none" stroke="#e5262c" stroke-width="1.5" stroke-linejoin="round" stroke-linecap="round"/>
<path d="M758.70,329.30 L774.20,344.00" fill="none" stroke="#e5262c" stroke-width="1.2" stroke-linejoin="round" stroke-linecap="round"/>
<path d="M606.60,313.80 L613.00,315.50 L610.70,319.00" fill="none" stroke="#e5262c" stroke-width="1.5" stroke-linejoin="round" stroke-linecap="round"/>
<text transform="translate(572,227.4) scale(0.86,1)" text-anchor="middle" fill="#e5262c" font-family="Liberation Sans" font-weight="bold" font-size="15.2">A</text>
<text transform="translate(626.75,362.2) scale(0.86,1)" text-anchor="middle" fill="#e5262c" font-family="Liberation Sans" font-weight="bold" font-size="15.2">D</text>
<text transform="translate(780.5,349.4) scale(0.86,1)" text-anchor="middle" fill="#e5262c" font-family="Liberation Sans" font-weight="bold" font-size="15.2">B</text>
<!-- ========== LOGO ========== -->
<g fill="#161616" stroke="#161616" stroke-width="0.3" stroke-linejoin="round">
<path d="M176.6,44.4 Q184,45 188,48.2 L190.6,50 L192.8,51.5 L190.8,52.2 L191.1,54.4 L189.2,56.2 L187.6,57.6 L186.9,60 L185.6,63.5 L183.8,66.6 L180.8,69.5 L176.2,71.2 L173.3,71.9 L173.2,50.2 L179,50.2 L182.4,50.9 L183.6,49.8 Q182.8,46.5 176.6,44.4 Z"/>
<path d="M193.4,54.9 L215.3,54.9 L211.6,62.25 L216.9,62.25 L220.55,54.9 L226.25,54.9 L218.8,69.8 L213.1,69.8 L215.55,64.9 L210.25,64.9 L207.8,69.8 L202.9,69.8 L208.9,57.7 L202.5,57.7 L197.2,69.8 L192.7,69.8 L198.7,57.7 L192.3,57.7 Z"/>
<path fill-rule="evenodd" d="M229.2,54.9 L243.8,54.9 Q245.2,55 244.6,56.3 L238.9,68.6 Q238.4,69.7 237,69.7 L223.2,69.7 Q221.9,69.7 222.4,68.5 L228,56 Q228.4,54.9 229.2,54.9 Z M231.8,58.4 L236.4,58.4 L233.7,65.7 L228.9,65.7 Z"/>
<path fill-rule="evenodd" d="M246.6,54.9 L258.5,54.9 Q260.8,55.2 260.1,57.5 L258.8,60.8 Q258,62.6 255.8,63.5 L257,69.7 L250.8,69.7 L249.8,64.6 L248.2,64.6 L245.8,69.7 L239.6,69.7 Z M251.4,58.3 L254.6,58.3 L252.2,62.3 L249.5,62.3 Z"/>
</g>
<g fill="none" stroke="#fff" stroke-width="1.25" stroke-linecap="round">
<path d="M180.2,54.2 Q182.8,56.9 186.5,57.6"/>
<path d="M184.2,60.2 L177,62.6 L175.8,66.2 L173.3,68.4"/>
</g>
</svg>
</body></html>
